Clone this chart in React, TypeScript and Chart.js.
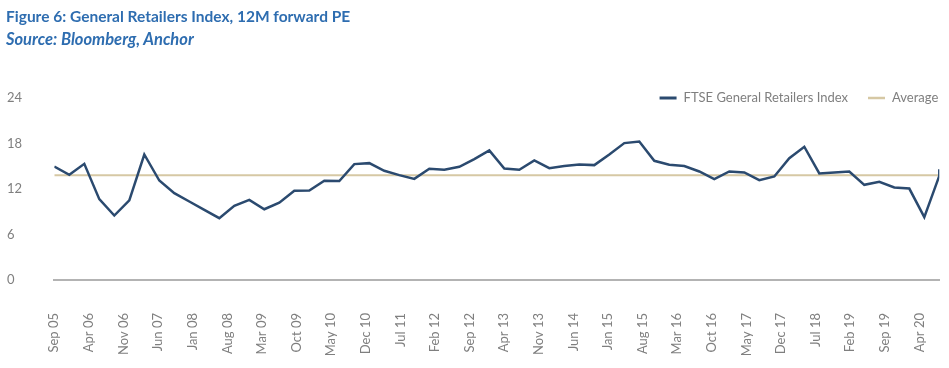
import React, { useEffect, useRef } from 'react';
import { Chart, registerables } from 'chart.js';

Chart.register(...registerables);

// ---- Data ----
const tickLabels = [
  'Sep 05', 'Apr 06', 'Nov 06', 'Jun 07', 'Jan 08', 'Aug 08', 'Mar 09', 'Oct 09', 'May 10',
  'Dec 10', 'Jul 11', 'Feb 12', 'Sep 12', 'Apr 13', 'Nov 13', 'Jun 14', 'Jan 15', 'Aug 15',
  'Mar 16', 'Oct 16', 'May 17', 'Dec 17', 'Jul 18', 'Feb 19', 'Sep 19', 'Apr 20',
];
const axisStart = 'Sep 05';
const axisEnd = 'Aug 20';

// Quarterly 12M forward PE observations
const peQuarterly = [
  14.97, 13.87, 15.32, 10.66, 8.5, 10.5, 16.55, 13.12, 11.45, 10.35,
  9.25, 8.15, 9.78, 10.57, 9.33, 10.2, 11.76, 11.8, 13.08, 13.04,
  15.28, 15.41, 14.4, 13.83, 13.34, 14.66, 14.53, 14.93, 15.94, 17.08,
  14.71, 14.53, 15.76, 14.75, 15.02, 15.23, 15.15, 16.55, 18.05, 18.27,
  15.72, 15.19, 15.02, 14.31, 13.3, 14.31, 14.18, 13.17, 13.65, 16.07,
  17.57, 14.05, 14.18, 14.3, 12.55, 12.95, 12.2, 12.06, 8.3, 13.74,
];
const peLatest = 14.6;
const averagePE = 13.8;

const seriesNames = ['FTSE General Retailers Index', 'Average'];
const yTicks = [0, 6, 12, 18, 24];

// ---- Styling ----
const FONT = 'Lato';
const TEXT_GREY = '#7F7F7F';
const TITLE_BLUE = '#2E6DB0';
const LINE_BLUE = '#2B4A6F';
const AVG_TAN = '#D6C8A4';

const MONTHS = ['Jan', 'Feb', 'Mar', 'Apr', 'May', 'Jun', 'Jul', 'Aug', 'Sep', 'Oct', 'Nov', 'Dec'];
const monthNumber = (label: string) => {
  const [m, y] = label.split(' ');
  return (2000 + Number(y)) * 12 + MONTHS.indexOf(m);
};
const monthOffset = (label: string) => monthNumber(label) - monthNumber(axisStart);

const legendPlugin = {
  id: 'topRightLegend',
  afterDraw(chart: any) {
    const { ctx, chartArea } = chart;
    const items = chart.data.datasets.map((d: any) => ({
      text: d.label,
      color: d.borderColor,
      lw: d.legendLineWidth,
    }));
    ctx.save();
    ctx.font = `13px ${FONT}`;
    ctx.textBaseline = 'middle';
    ctx.textAlign = 'left';
    const y = chartArea.top;
    let x = chartArea.right - 1;
    for (let i = items.length - 1; i >= 0; i--) {
      const it = items[i];
      const tw = ctx.measureText(it.text).width;
      x -= tw;
      ctx.fillStyle = TEXT_GREY;
      ctx.fillText(it.text, x, y);
      x -= 7;
      ctx.strokeStyle = it.color;
      ctx.lineWidth = it.lw;
      ctx.beginPath();
      ctx.moveTo(x - 17, y);
      ctx.lineTo(x, y);
      ctx.stroke();
      x -= 17 + 20;
    }
    ctx.restore();
  },
};

export default function App() {
  const canvasRef = useRef<HTMLCanvasElement | null>(null);

  useEffect(() => {
    if (!canvasRef.current) return;
    const lastIndex = peQuarterly.length - 1;
    const peData = [
      ...peQuarterly.map((v, i) => ({ x: i, y: v })),
      { x: lastIndex, y: peLatest },
    ];
    const avgData = [
      { x: 0, y: averagePE },
      { x: lastIndex, y: averagePE },
    ];

    const chart = new Chart(canvasRef.current, {
      type: 'line',
      data: {
        datasets: [
          {
            label: seriesNames[0],
            data: peData,
            borderColor: LINE_BLUE,
            borderWidth: 2.5,
            pointRadius: 0,
            tension: 0,
            xAxisID: 'x',
            yAxisID: 'y',
            legendLineWidth: 3,
          } as any,
          {
            label: seriesNames[1],
            data: avgData,
            borderColor: AVG_TAN,
            borderWidth: 2,
            pointRadius: 0,
            tension: 0,
            xAxisID: 'x',
            yAxisID: 'y',
            legendLineWidth: 2.5,
          } as any,
        ],
      },
      options: {
        responsive: false,
        animation: false,
        layout: { padding: { top: 98, left: 7, right: 9.7, bottom: 8 } },
        plugins: {
          legend: { display: false },
          tooltip: { enabled: false },
          title: { display: false },
        },
        scales: {
          x: {
            type: 'linear',
            min: 0,
            max: peQuarterly.length - 1,
            display: false,
          },
          xDate: {
            type: 'linear',
            position: 'bottom',
            min: 0,
            max: monthOffset(axisEnd),
            afterBuildTicks: (scale: any) => {
              scale.ticks = tickLabels.map((l) => ({ value: monthOffset(l) }));
            },
            afterFit: (scale: any) => {
              scale.height = 80;
              scale.paddingLeft = 0;
              scale.paddingRight = 0;
            },
            grid: { display: false, drawTicks: false },
            border: { display: true, color: '#B3B3B3', width: 2 },
            ticks: {
              autoSkip: false,
              minRotation: 90,
              maxRotation: 90,
              padding: 33,
              color: TEXT_GREY,
              font: { family: FONT, size: 13 },
              callback: (value: any) => tickLabels.find((l) => monthOffset(l) === value) ?? '',
            },
          },
          y: {
            type: 'linear',
            min: yTicks[0],
            max: yTicks[yTicks.length - 1],
            afterBuildTicks: (scale: any) => {
              scale.ticks = yTicks.map((v) => ({ value: v }));
            },
            afterFit: (scale: any) => {
              scale.width = 47.3;
              scale.paddingTop = 0;
              scale.paddingBottom = 0;
            },
            grid: { display: false, drawTicks: false },
            border: { display: false },
            ticks: {
              crossAlign: 'far',
              color: TEXT_GREY,
              font: { family: FONT, size: 13 },
            },
          },
        },
      } as any,
      plugins: [legendPlugin],
    });
    return () => chart.destroy();
  }, []);

  return (
    <div
      style={{
        position: 'absolute',
        left: 0,
        top: 0,
        width: 949,
        height: 368,
        background: '#ffffff',
        fontFamily: FONT,
        overflow: 'hidden',
      }}
    >
      <canvas
        ref={canvasRef}
        width={949}
        height={368}
        style={{ position: 'absolute', left: 0, top: 0, width: 949, height: 368 }}
      />
      <div
        style={{
          position: 'absolute',
          left: 6,
          top: 7,
          fontSize: 15.5,
          lineHeight: '19px',
          fontWeight: 700,
          color: TITLE_BLUE,
          whiteSpace: 'nowrap',
        }}
      >
        Figure 6: General Retailers Index, 12M forward PE
      </div>
      <div
        style={{
          position: 'absolute',
          left: 6,
          top: 29,
          fontSize: 16.5,
          lineHeight: '20px',
          fontWeight: 700,
          fontStyle: 'italic',
          color: TITLE_BLUE,
          whiteSpace: 'nowrap',
        }}
      >
        Source: Bloomberg, Anchor
      </div>
    </div>
  );
}
